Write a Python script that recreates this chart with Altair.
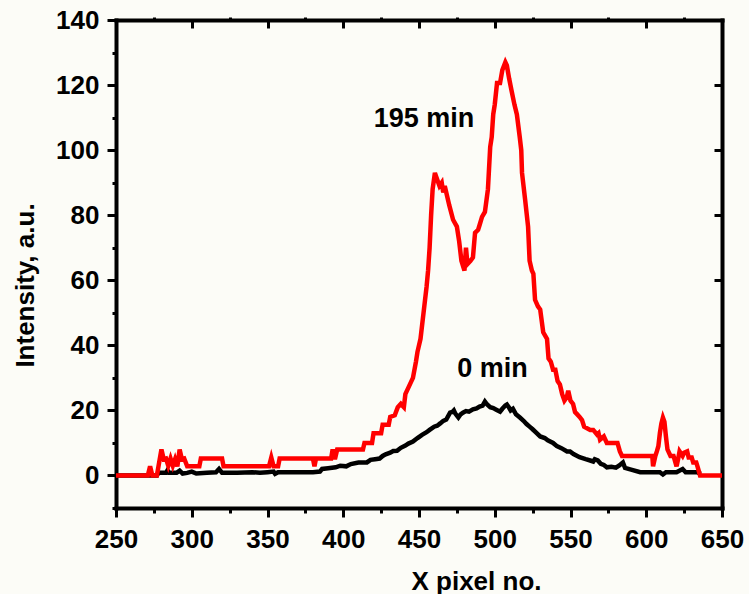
import altair as alt
import pandas as pd

red_x = [250, 271, 272.5, 274, 277, 278.5, 280, 281.5, 283, 284.5, 286, 287.5, 289, 290.5, 292, 293.5, 295, 297,
         305, 306, 320, 321, 351, 352.5, 354, 357, 358, 380, 381, 382, 392, 393, 394.5, 396, 413, 414, 419, 420,
         425, 426, 430, 431, 434, 436, 438, 440, 441, 443, 445, 446, 448, 449, 451, 452, 454, 455, 456, 457, 458,
         459, 460.5, 462, 463.5, 465, 466, 467, 468, 470, 472.5, 475, 476.5, 478, 480, 481, 482, 484, 485.6, 487,
         489, 490, 491.6, 493.5, 495.5, 497, 498, 499, 500, 501.5, 503.5, 505, 507, 508, 509.5, 511, 513, 514.6,
         516.5, 517.5, 518, 520, 522, 523, 524.5, 525.5, 526.6, 528.5, 530, 532, 534.5, 535.5, 537, 538.5, 540,
         541.5, 543, 544.5, 546, 547.5, 548.5, 550, 551.7, 553, 554, 556, 557.6, 559, 563, 565, 567.5, 568.5,
         569.5, 572, 574, 581, 582.6, 584, 604, 604.5, 606, 607, 608, 609, 610, 611, 612, 613, 614, 616, 618,
         620, 621, 622, 624, 625, 627, 628, 630, 631, 633, 634, 635.5, 650]
red_y = [0, 0, 2.8, 0, 0, 4, 8, 5, 5.2, 3, 5.2, 3, 5, 2.8, 8, 5, 5.2, 2.8,
         2.8, 5.2, 5.2, 2.8, 2.8, 5.5, 2.8, 2.8, 5.2, 5.2, 2.8, 5.2, 5.2, 8, 5, 8, 8, 10, 10, 13,
         13, 15.6, 15.6, 18, 18.5, 21, 22, 21, 25, 27, 29, 30, 35, 38, 42, 46, 54, 58, 63, 70, 80,
         88, 93, 91, 89, 90, 87, 89, 87, 83, 78.6, 76.5, 72, 66, 63, 70, 65, 66, 67, 74.6,
         75.5, 77, 79.5, 81, 88, 101, 104, 111, 114, 120.6, 120.6, 124.6, 127, 126, 122, 118.5, 114, 111,
         104, 100, 93, 85, 76.5, 66, 63, 62, 54, 52, 51, 44, 42, 36, 35, 32.5, 32.5,
         29, 28, 25, 23, 24, 26, 23, 22, 19.5, 19, 18, 17, 15, 14, 14, 12.6, 13,
         11, 12, 10, 10, 7.4, 6, 6, 2.8, 6, 7.4, 9, 13, 16, 17.8, 16.5, 12, 8, 6, 6,
         2.8, 5, 7.4, 6, 7, 7.4, 5.5, 5.5, 4, 4, 2.5, 0, 0]

black_x = [250, 277, 278, 283, 284, 285, 290, 292, 294, 297, 300, 303, 310, 316, 318, 320, 330, 340, 345, 350,
           354, 355, 357, 370, 380, 384.6, 386, 390, 395, 398, 402, 405, 410, 415.6, 418, 421, 424, 426, 428,
           431, 433, 435.5, 438, 441, 443, 446, 449, 452, 455, 457, 460, 462, 464, 466, 468, 470.5, 472, 473,
           474, 476, 477.5, 479, 481, 483, 485.6, 488, 490, 492, 493.5, 495, 497, 499, 501, 503.5, 505, 507,
           508, 509.5, 510.5, 512, 514, 516.6, 519, 521, 523, 525, 527, 530, 533, 535, 538.5, 541, 544, 547.7,
           549.7, 552, 556, 560, 563, 565, 566, 568, 570, 572, 574, 577, 580, 582, 584.6, 586, 590, 596, 605,
           609, 611, 613, 620, 624, 626, 633.5, 636]
black_y = [0, 0, 0.8, 0.8, 1.6, 0.8, 0.8, 1.5, 0.6, 0.8, 1.2, 0.6, 0.8, 1, 2, 0.8, 0.8, 1, 0.8, 1,
           1.2, 0.5, 1, 1, 1, 1.2, 2, 2.2, 2.5, 3, 2.8, 3.5, 4, 4, 4.8, 5, 5.2, 6, 6.5,
           7, 7.5, 7.6, 8.5, 9.2, 9.8, 10.4, 11.5, 12.5, 13.3, 14, 15, 15.3, 16, 16.8, 17.2, 19.3, 19.5, 20,
           19, 17.8, 18.8, 19.3, 19.8, 19.6, 20.3, 20.6, 21.2, 21.5, 22.7, 21.8, 21, 20.7, 20.2, 19.6, 20.5, 21.5,
           21.8, 20.8, 20, 20.5, 18.8, 17.8, 16.8, 15.8, 15, 14.2, 13.3, 12, 11.5, 10.8, 10, 9, 8.4, 7.4,
           7.4, 6.6, 5.6, 5, 4.6, 4.3, 5, 4.6, 3.6, 3.2, 2.5, 2.7, 2.4, 3, 4, 2.3, 1.8, 1, 1,
           1, 0.3, 1, 1, 2, 1, 1, 0.5]

label_text = ["195 min", "0 min"]
label_x = [453.3, 498.5]
label_y = [107.2, 30.4]

x_major = [250, 300, 350, 400, 450, 500, 550, 600, 650]
x_minor = [275, 325, 375, 425, 475, 525, 575, 625]
y_major = [0, 20, 40, 60, 80, 100, 120, 140]
y_minor = [-10, 10, 30, 50, 70, 90, 110, 130]

red_df = pd.DataFrame({"x": red_x, "y": red_y})
black_df = pd.DataFrame({"x": black_x, "y": black_y})
lab1 = pd.DataFrame({"x": label_x[:1], "y": label_y[:1], "t": label_text[:1]})
lab2 = pd.DataFrame({"x": label_x[1:], "y": label_y[1:], "t": label_text[1:]})

W, H = 606, 488
xs = alt.Scale(domain=[250, 650], nice=False, zero=False)
ys = alt.Scale(domain=[-10, 140], nice=False, zero=False)

FONT = "Liberation Sans"

black_layer = alt.Chart(black_df).mark_line(color="#000000", strokeWidth=4.5).encode(
    x=alt.X("x:Q", scale=xs, axis=alt.Axis(
        orient="bottom", values=x_major, tickSize=9, labelPadding=9, labelFlush=False,
        title="X pixel no.", titleX=360, titleY=81, titleAnchor="start", titleAlign="center",
        titleBaseline="alphabetic")),
    y=alt.Y("y:Q", scale=ys, axis=alt.Axis(
        orient="left", values=y_major, tickSize=9, labelPadding=8, labelFlush=False,
        title="Intensity, a.u.", titleX=-83, titleY=265, titleAlign="center",
        titleBaseline="alphabetic", titleAngle=270)),
)

red_layer = alt.Chart(red_df).mark_line(color="#ff0000", strokeWidth=4.5).encode(
    x=alt.X("x:Q", scale=xs, axis=alt.Axis(
        orient="bottom", values=x_minor, tickSize=5, labels=False, domain=False, title="")),
    y=alt.Y("y:Q", scale=ys, axis=alt.Axis(
        orient="left", values=y_minor, tickSize=4, labels=False, domain=False, title="")),
)

text1 = alt.Chart(lab1).mark_text(font=FONT, fontSize=27, fontWeight="bold", color="#000000",
                                  align="center", baseline="alphabetic").encode(
    x=alt.X("x:Q", scale=xs, axis=alt.Axis(
        orient="bottom", offset=-H, values=x_major, tickSize=8, labels=False, domain=True, title="")),
    y=alt.Y("y:Q", scale=ys, axis=alt.Axis(
        orient="left", offset=-W, values=y_major, tickSize=8, labels=False, domain=True, title="")),
    text="t:N",
)

text2 = alt.Chart(lab2).mark_text(font=FONT, fontSize=27, fontWeight="bold", color="#000000",
                                  align="center", baseline="alphabetic").encode(
    x=alt.X("x:Q", scale=xs, axis=alt.Axis(
        orient="top", values=x_minor, tickSize=3, labels=False, domain=False, title="")),
    y=alt.Y("y:Q", scale=ys, axis=None),
    text="t:N",
)

chart = alt.layer(black_layer, red_layer, text1, text2).resolve_axis(
    x="independent", y="independent"
).properties(
    width=W, height=H,
    autosize=alt.AutoSizeParams(type="none"),
    padding={"left": 116, "top": 20, "right": 27, "bottom": 86},
    background="#fcfcf7",
).configure_axis(
    labelFont=FONT, labelFontSize=26, labelFontWeight="bold", labelColor="#000000",
    titleFont=FONT, titleFontSize=26, titleFontWeight="bold", titleColor="#000000",
    domainColor="#000000", domainWidth=4, tickColor="#000000", tickWidth=3, grid=False,
    domainCap="square",
).configure_view(strokeWidth=0)

chart.save("out.html", embed_options={"renderer": "svg", "actions": False})
